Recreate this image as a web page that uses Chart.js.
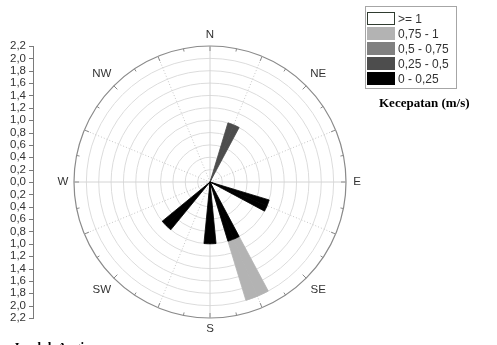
<!DOCTYPE html>
<html>
<head>
<meta charset="utf-8">
<script src="https://cdn.jsdelivr.net/npm/chart.js@4/dist/chart.umd.min.js"></script>
<style>
  html, body { margin: 0; padding: 0; background: #fff; }
  #wrap { position: relative; width: 497px; height: 345px; overflow: hidden; }
  #rose { position: absolute; left: 0; top: 0; }
  #legendBox { position: absolute; left: 365px; top: 6px; width: 92px; height: 83px;
               border: 1px solid #a6a6a6; box-sizing: border-box; }
  .sw { position: absolute; left: 367px; width: 28px; height: 13px; box-sizing: border-box; }
  .lt { position: absolute; left: 398px; height: 13px; line-height: 13px; white-space: nowrap;
        font: 12px "Liberation Sans", Arial, sans-serif; color: #333; }
  #speedTitle { position: absolute; left: 379px; top: 95px; white-space: nowrap;
                font: bold 13px "Liberation Serif", "Times New Roman", serif; color: #000; }
  #countTitle { position: absolute; left: 13px; top: 339px; white-space: nowrap;
                font: bold 13px "Liberation Serif", "Times New Roman", serif; color: #000; }
</style>
</head>
<body>
<div id="wrap">
  <canvas id="rose" width="497" height="345"></canvas>
  <div id="legendBox"></div>
  <div id="speedTitle">Kecepatan (m/s)</div>
  <div id="countTitle">Jumlah Angin</div>
</div>
<script>
// 16 compass sectors, clockwise from north
const directions = ['N', 'NNE', 'NE', 'ENE', 'E', 'ESE', 'SE', 'SSE',
                    'S', 'SSW', 'SW', 'WSW', 'W', 'WNW', 'NW', 'NNW'];

// wind speed classes (m/s), innermost first
const speedClasses = ['0 - 0,25', '0,25 - 0,5', '0,5 - 0,75', '0,75 - 1', '>= 1'];
const classColors  = ['#000000', '#4d4d4d', '#808080', '#b3b3b3', '#ffffff'];

// counts per sector for each speed class
const speed0to025   = [0, 0, 0, 0, 0, 1, 0, 1, 1, 0, 1, 0, 0, 0, 0, 0];
const speed025to05  = [0, 1, 0, 0, 0, 0, 0, 0, 0, 0, 0, 0, 0, 0, 0, 0];
const speed05to075  = [0, 0, 0, 0, 0, 0, 0, 0, 0, 0, 0, 0, 0, 0, 0, 0];
const speed075to1   = [0, 0, 0, 0, 0, 0, 0, 1, 0, 0, 0, 0, 0, 0, 0, 0];
const speedAbove1   = [0, 0, 0, 0, 0, 0, 0, 0, 0, 0, 0, 0, 0, 0, 0, 0];

const compassLabels = ['N', 'NE', 'E', 'SE', 'S', 'SW', 'W', 'NW'];
const radialTicks = [0, 0.2, 0.4, 0.6, 0.8, 1.0, 1.2, 1.4, 1.6, 1.8, 2.0, 2.2];
const radialMax = 2.2;

const classCounts = [speed0to025, speed025to05, speed05to075, speed075to1, speedAbove1];

// Each sector is split into 4 angular slots; a petal fills the two slots
// straddling the sector's centre line, leaving gaps between petals.
const SLOTS_PER_SECTOR = 4;
const SLOTS = directions.length * SLOTS_PER_SECTOR;

const slotLabels = [];
for (let i = 0; i < SLOTS; i++) {
  slotLabels.push(i % 8 === 0 ? compassLabels[i / 8] : '');
}

function petalSlots(k) {
  const out = new Array(SLOTS).fill(0);
  directions.forEach((d, i) => {
    if (classCounts[k][i] > 0) {
      let cumulative = 0;
      for (let j = 0; j <= k; j++) cumulative += classCounts[j][i];
      const c = i * SLOTS_PER_SECTOR;
      out[(c - 1 + SLOTS) % SLOTS] = cumulative;
      out[c] = cumulative;
    }
  });
  return out;
}

const datasets = speedClasses.map((name, k) => ({
  label: name,
  data: petalSlots(k),
  backgroundColor: classColors[k],
  borderColor: classColors[k],
  borderWidth: c => (c.raw > 0 ? 0.8 : 0),
  borderJoinStyle: 'miter'
}));

// legend rows, highest class first
const legendTops = [12, 27, 42, 57, 72];
const wrap = document.getElementById('wrap');
speedClasses.slice().reverse().forEach((name, r) => {
  const k = speedClasses.length - 1 - r;
  const sw = document.createElement('div');
  sw.className = 'sw';
  sw.style.top = legendTops[r] + 'px';
  sw.style.background = classColors[k];
  if (k === speedClasses.length - 1) sw.style.border = '1px solid #2f3b2f';
  wrap.appendChild(sw);
  const lt = document.createElement('div');
  lt.className = 'lt';
  lt.style.top = legendTops[r] + 'px';
  lt.textContent = name;
  wrap.appendChild(lt);
});

const fmt = v => v.toFixed(1).replace('.', ',');

// compass labels, rim ticks and the vertical distance axis on the left
const roseDecor = {
  id: 'roseDecor',
  afterDraw(chart) {
    const s = chart.scales.r;
    const ctx = chart.ctx;
    const R = s.getDistanceFromCenterForValue(radialMax);
    ctx.save();

    // rim ticks every 11.25 degrees
    ctx.strokeStyle = '#8a8a8a';
    ctx.lineWidth = 1;
    for (let i = 0; i < SLOTS; i += 2) {
      const len = (i % 4 === 0) ? 5 : 3;
      const a = s.getPointPosition(i, R);
      const b = s.getPointPosition(i, R - len);
      ctx.beginPath();
      ctx.moveTo(a.x, a.y);
      ctx.lineTo(b.x, b.y);
      ctx.stroke();
    }

    // compass labels
    ctx.fillStyle = '#333';
    ctx.font = '11.5px "Liberation Sans", Arial, sans-serif';
    ctx.textAlign = 'center';
    ctx.textBaseline = 'middle';
    for (let i = 0; i < SLOTS; i += 8) {
      const diag = (i / 8) % 2 === 1;
      const p = s.getPointPosition(i, R + (diag ? 17 : 11));
      ctx.fillText(slotLabels[i], p.x, p.y);
    }

    // vertical axis: distance from centre, upward and downward
    const ax = 33;
    ctx.strokeStyle = '#7a7a7a';
    ctx.beginPath();
    ctx.moveTo(ax + 0.5, s.yCenter - R);
    ctx.lineTo(ax + 0.5, s.yCenter + R);
    ctx.stroke();
    ctx.textAlign = 'right';
    ctx.font = '11.5px "Liberation Sans", Arial, sans-serif';
    radialTicks.forEach(v => {
      const d = s.getDistanceFromCenterForValue(v);
      const ys = v === 0 ? [s.yCenter] : [s.yCenter - d, s.yCenter + d];
      ys.forEach(y => {
        const yy = Math.round(y) + 0.5;
        ctx.beginPath();
        ctx.moveTo(ax - 4, yy);
        ctx.lineTo(ax + 1, yy);
        ctx.stroke();
        ctx.fillText(fmt(v), ax - 7, y);
      });
    });
    ctx.restore();
  }
};

new Chart(document.getElementById('rose'), {
  type: 'polarArea',
  data: { labels: slotLabels, datasets },
  options: {
    responsive: false,
    animation: false,
    devicePixelRatio: 1,
    layout: { padding: { left: 74, top: 46, right: 151, bottom: 27 } },
    plugins: { legend: { display: false }, tooltip: { enabled: false } },
    scales: {
      r: {
        min: 0,
        max: radialMax,
        startAngle: 0,
        ticks: { display: false, stepSize: 0.2 },
        pointLabels: { display: false },
        grid: {
          circular: true,
          color: c => (Math.abs(c.tick.value - radialMax) < 1e-6 ? '#8a8a8a' : '#dcdcdc'),
          lineWidth: c => (Math.abs(c.tick.value - radialMax) < 1e-6 ? 1.2 : 1)
        },
        angleLines: {
          display: true,
          color: c => (c.index % 16 === 0 ? '#d4d4d4' : '#c6c6c6'),
          lineWidth: c => (c.index % 16 === 0 || c.index % 8 === 4 ? 1 : 0),
          borderDash: c => (c.index % 16 === 0 ? [] : [1, 2])
        }
      }
    }
  },
  plugins: [roseDecor]
});
</script>
</body>
</html>
